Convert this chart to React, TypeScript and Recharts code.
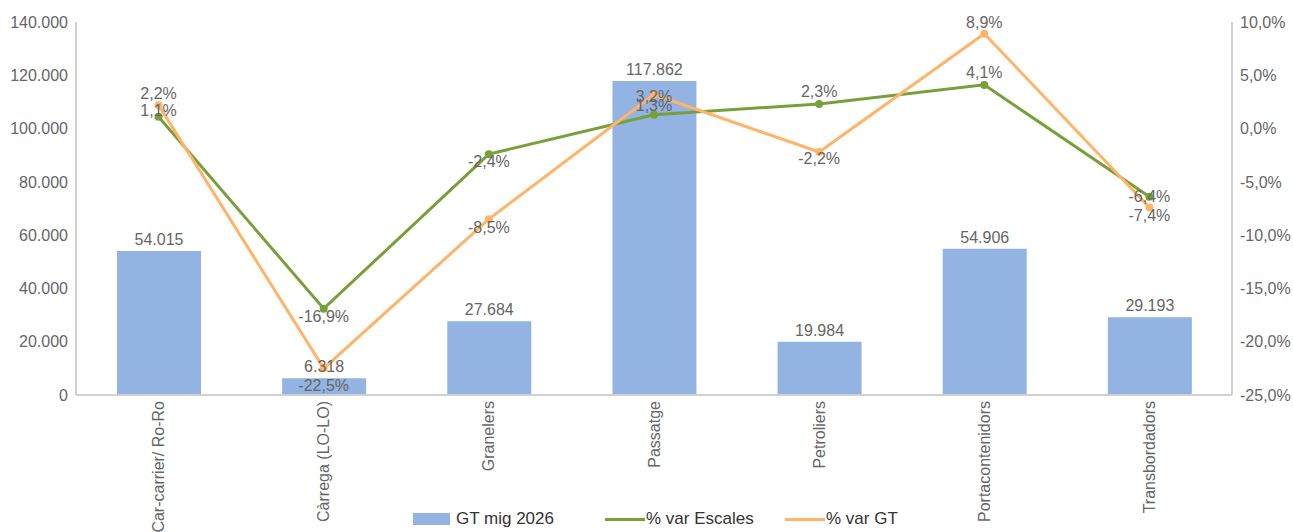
import { ComposedChart, Bar, Line, XAxis, YAxis, Legend, LabelList } from 'recharts';

const categories = ['Car-carrier/ Ro-Ro', 'Càrrega (LO-LO)', 'Granelers', 'Passatge', 'Petroliers', 'Portacontenidors', 'Transbordadors'];
const gtValues = [54015, 6318, 27684, 117862, 19984, 54906, 29193];
const escalesVar = [1.1, -16.9, -2.4, 1.3, 2.3, 4.1, -6.4];
const gtVar = [2.2, -22.5, -8.5, 3.2, -2.2, 8.9, -7.4];
const leftTicks = [0, 20000, 40000, 60000, 80000, 100000, 120000, 140000];
const rightTicks = [-25, -20, -15, -10, -5, 0, 5, 10];
const legendOrder = ['gt', 'escales', 'gtPct'];

// label nudges, picked by eye from the reference
const escalesLabelDy = [-6, 8, 7, -9, -13, -12, 0];
const gtLabelDy = [-12, 17, 8, 2, 6, -11, 8];

const data = categories.map((name, i) => ({
  name,
  gt: gtValues[i],
  escales: escalesVar[i],
  gtPct: gtVar[i],
}));

const FONT = '"Liberation Sans", Arial, sans-serif';
const FS = 16;
const TEXT = '#666666';
const AXIS = '#d0d0d0';
const BAR = '#93b3e2';
const GREEN = '#78a03a';
const ORANGE = '#ffb469';

const fmtThousands = (v: number) => v.toString().replace(/\B(?=(\d{3})+(?!\d))/g, '.');
const fmtPct = (v: number) => v.toFixed(1).replace('.', ',') + '%';

function CategoryTick({ x, y, payload }: any) {
  return (
    <text
      x={x}
      y={y}
      dy="0.35em"
      transform={`rotate(-90, ${x}, ${y})`}
      textAnchor="end"
      fill={TEXT}
      fontSize={FS}
      fontFamily={FONT}
    >
      {payload.value}
    </text>
  );
}

const pctLabel = (offsets: number[]) => (props: any) => {
  const { x, y, value, index } = props;
  return (
    <text
      x={x}
      y={y + offsets[index]}
      textAnchor="middle"
      dominantBaseline="central"
      fill={TEXT}
      fontSize={FS}
      fontFamily={FONT}
    >
      {fmtPct(value)}
    </text>
  );
};

function LegendContent({ payload }: any) {
  const widths = [192, 180, 160];
  const items = [...(payload || [])].sort(
    (a: any, b: any) => legendOrder.indexOf(a.dataKey) - legendOrder.indexOf(b.dataKey)
  );
  return (
    <div style={{ display: 'flex', alignItems: 'center', whiteSpace: 'nowrap', fontFamily: '"Liberation Sans Narrow", "Liberation Sans", Arial, sans-serif', fontSize: 17, color: '#333' }}>
      {items.map((entry: any, i: number) => (
        <div key={entry.value} style={{ display: 'flex', alignItems: 'center', width: widths[i], flex: 'none' }}>
          {entry.type === 'rect' ? (
            <span style={{ display: 'inline-block', width: 37, height: 12, background: entry.color, marginRight: 6 }} />
          ) : (
            <span style={{ display: 'inline-block', width: 40, height: 3, background: entry.color, marginRight: 1 }} />
          )}
          <span>{entry.value}</span>
        </div>
      ))}
    </div>
  );
}

export default function App() {
  return (
    <div style={{ position: 'absolute', left: 0, top: 0, background: '#fff' }}>
      <ComposedChart width={1293} height={532} data={data} margin={{ top: 22, right: 0, bottom: 0, left: 0 }}>
        <XAxis
          dataKey="name"
          height={137}
          interval={0}
          tick={<CategoryTick />}
          tickLine={false}
          tickMargin={0}
          axisLine={{ stroke: AXIS, strokeWidth: 2 }}
        />
        <YAxis
          yAxisId="left"
          width={76}
          domain={[0, 140000]}
          ticks={leftTicks}
          tickFormatter={fmtThousands}
          tickLine={false}
          axisLine={{ stroke: AXIS, strokeWidth: 2 }}
          tick={{ fill: TEXT, fontSize: FS, fontFamily: FONT }}
        />
        <YAxis
          yAxisId="right"
          orientation="right"
          width={61}
          domain={[-25, 10]}
          ticks={rightTicks}
          tickFormatter={fmtPct}
          tickLine={false}
          axisLine={{ stroke: AXIS, strokeWidth: 2 }}
          tick={{ fill: TEXT, fontSize: FS, fontFamily: FONT, textAnchor: 'start' }}
        />
        <Legend
          verticalAlign="middle"
          align="center"
          layout="horizontal"
          content={<LegendContent />}
          wrapperStyle={{ left: 413, top: 509, width: 560 }}
        />
        <Bar yAxisId="left" dataKey="gt" name="GT mig 2026" fill={BAR} barSize={84} legendType="rect" isAnimationActive={false}>
          <LabelList dataKey="gt" position="top" offset={6} formatter={(v: any) => fmtThousands(v)} fill={TEXT} fontSize={FS} fontFamily={FONT} />
        </Bar>
        <Line
          yAxisId="right"
          dataKey="escales"
          name="% var Escales"
          stroke={GREEN}
          strokeWidth={3}
          dot={{ r: 2.5, fill: GREEN, stroke: GREEN }}
          legendType="plainline"
          isAnimationActive={false}
        >
          <LabelList dataKey="escales" content={pctLabel(escalesLabelDy)} />
        </Line>
        <Line
          yAxisId="right"
          dataKey="gtPct"
          name="% var GT"
          stroke={ORANGE}
          strokeWidth={3}
          dot={{ r: 2.5, fill: ORANGE, stroke: ORANGE }}
          legendType="plainline"
          isAnimationActive={false}
        >
          <LabelList dataKey="gtPct" content={pctLabel(gtLabelDy)} />
        </Line>
      </ComposedChart>
    </div>
  );
}
